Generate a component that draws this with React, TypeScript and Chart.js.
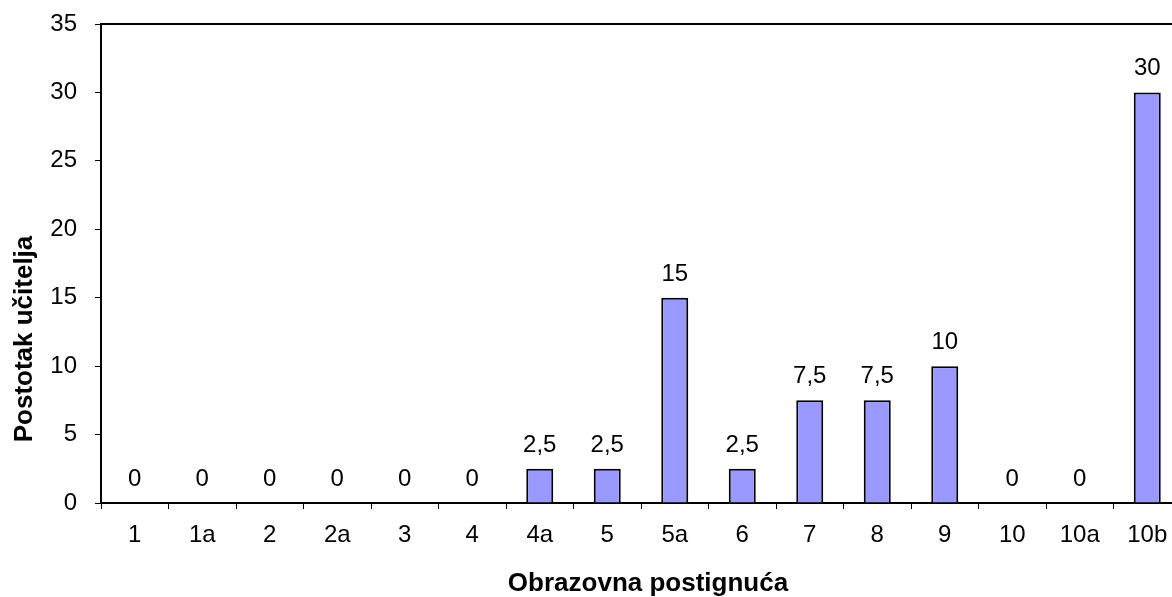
import React, { useEffect, useRef } from "react";
import { Chart, registerables } from "chart.js";

Chart.register(...registerables);

const categories: string[] = ["1", "1a", "2", "2a", "3", "4", "4a", "5", "5a", "6", "7", "8", "9", "10", "10a", "10b"];
const values: number[] = [0, 0, 0, 0, 0, 0, 2.5, 2.5, 15, 2.5, 7.5, 7.5, 10, 0, 0, 30];
const yTicks: number[] = [0, 5, 10, 15, 20, 25, 30, 35];
const xTitle = "Obrazovna postignuća";
const yTitle = "Postotak učitelja";

const FONT = '"Liberation Sans", Arial, sans-serif';

const labelsPlugin = {
  id: "customLabels",
  afterDatasetsDraw(chart: any) {
    const ctx = chart.ctx;
    const meta = chart.getDatasetMeta(0);
    ctx.save();
    ctx.fillStyle = "#000";
    ctx.font = `24px ${FONT}`;
    ctx.textAlign = "center";
    ctx.textBaseline = "alphabetic";
    meta.data.forEach((el: any, i: number) => {
      const v = values[i];
      const txt = String(v).replace(".", ",");
      ctx.fillText(txt, el.x, el.y - 17);
    });
    ctx.restore();
  },
  afterDraw(chart: any) {
    const ctx = chart.ctx;
    const a = chart.chartArea;
    ctx.save();
    ctx.strokeStyle = "#000";
    ctx.lineWidth = 2;
    ctx.beginPath();
    ctx.moveTo(a.left, a.top);
    ctx.lineTo(a.right, a.top);
    ctx.lineTo(a.right, a.bottom);
    ctx.stroke();
    ctx.fillStyle = "#000";
    ctx.font = `bold 26px ${FONT}`;
    ctx.textAlign = "center";
    ctx.textBaseline = "middle";
    ctx.fillText(xTitle, a.left + 547, chart.height - 13);
    ctx.translate(a.left - 76, a.bottom - 164);
    ctx.rotate(-Math.PI / 2);
    ctx.fillText(yTitle, 0, 0);
    ctx.restore();
  },
};

export default function App() {
  const ref = useRef<HTMLCanvasElement | null>(null);
  useEffect(() => {
    if (!ref.current) return;
    const chart = new Chart(ref.current, {
      type: "bar",
      data: {
        labels: categories,
        datasets: [
          {
            data: values,
            backgroundColor: "#9999FF",
            borderColor: "#000000",
            borderWidth: 2,
            categoryPercentage: 0.4,
            barPercentage: 1,
          },
        ],
      },
      options: {
        responsive: false,
        animation: false,
        devicePixelRatio: 1,
        layout: { padding: { top: 24, right: 9, left: 0, bottom: 0 } },
        plugins: { legend: { display: false }, tooltip: { enabled: false } },
        scales: {
          x: {
            offset: true,
            grid: {
              offset: true,
              drawOnChartArea: false,
              drawTicks: true,
              tickLength: 6,
              color: "#000",
              lineWidth: 1,
            },
            border: { display: true, color: "#000", width: 2 },
            ticks: {
              color: "#000",
              font: { family: FONT, size: 24 },
              padding: 12,
              maxRotation: 0,
              autoSkip: false,
            },
            afterFit(scale: any) {
              scale.height = 94;
              scale.paddingLeft = 0;
              scale.paddingRight = 0;
            },
          },
          y: {
            min: 0,
            max: 35,
            afterBuildTicks(scale: any) {
              scale.ticks = yTicks.map((v) => ({ value: v }));
            },
            grid: {
              drawOnChartArea: false,
              drawTicks: true,
              tickLength: 6,
              color: "#000",
              lineWidth: 1,
            },
            border: { display: true, color: "#000", width: 2 },
            ticks: {
              color: "#000",
              font: { family: FONT, size: 24 },
              padding: 18,
            },
            afterFit(scale: any) {
              scale.width = 101;
              scale.paddingTop = 0;
              scale.paddingBottom = 0;
            },
          },
        },
      },
      plugins: [labelsPlugin],
    });
    return () => chart.destroy();
  }, []);
  return (
    <div
      style={{
        position: "fixed",
        left: 0,
        top: 0,
        width: 1172,
        height: 597,
        overflow: "hidden",
        background: "#fff",
      }}
    >
      <canvas ref={ref} width={1190} height={597} style={{ display: "block" }} />
    </div>
  );
}
